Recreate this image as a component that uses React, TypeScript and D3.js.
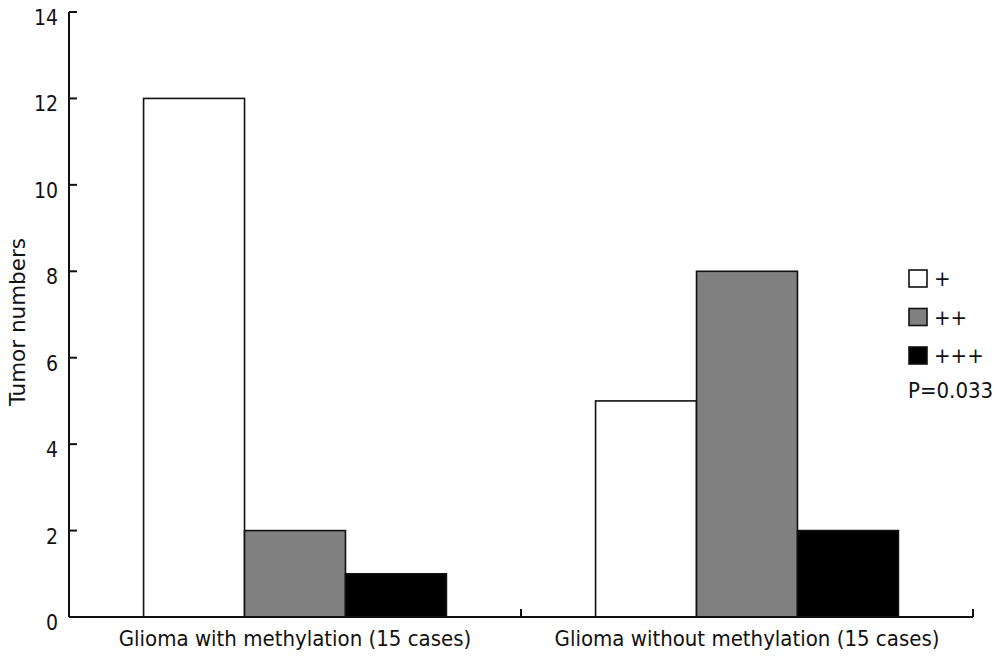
import React from "react";
import * as d3 from "d3";

const categories = ["Glioma with methylation (15 cases)", "Glioma without methylation (15 cases)"];
const seriesNames = ["+", "++", "+++"];
const seriesColors = ["#ffffff", "#808080", "#000000"];
const plusValues = [12, 5];
const plusPlusValues = [2, 8];
const plusPlusPlusValues = [1, 2];
const yTicks = [0, 2, 4, 6, 8, 10, 12, 14];
const pValueText = "P=0.033";
const yAxisTitle = "Tumor numbers";

const seriesValues = [plusValues, plusPlusValues, plusPlusPlusValues];

export default function App() {
  const W = 1004, H = 662;
  const left = 69, right = 973, top = 12, bottom = 617;
  const font = "'DejaVu Sans Condensed', 'DejaVu Sans', sans-serif";

  const x0 = d3.scaleBand<string>().domain(categories).range([left, right]).paddingInner(0).paddingOuter(0);
  const y = d3.scaleLinear().domain([0, 14]).range([bottom, top]);
  const groupW = x0.bandwidth() * 0.67;
  const x1 = d3.scaleBand<string>().domain(seriesNames).range([0, groupW]).padding(0);

  return (
    <svg width={W} height={H} style={{ position: "absolute", left: 0, top: 0, background: "#fff" }} fontFamily={font}>
      <rect x={0} y={0} width={W} height={H} fill="#fff" />
      {/* bars */}
      {categories.map((c, ci) => {
        const gx = (x0(c) as number) + (x0.bandwidth() - groupW) / 2;
        return seriesNames.map((s, si) => {
          const v = seriesValues[si][ci];
          return (
            <rect
              key={c + s}
              x={gx + (x1(s) as number)}
              y={y(v)}
              width={x1.bandwidth()}
              height={y(0) - y(v)}
              fill={seriesColors[si]}
              stroke="#111"
              strokeWidth={1.6}
            />
          );
        });
      })}
      {/* y axis */}
      <line x1={left} x2={left} y1={top} y2={bottom} stroke="#111" strokeWidth={2} />
      {yTicks.map((t) => (
        <g key={t}>
          <line x1={left} x2={left + 8} y1={y(t)} y2={y(t)} stroke="#111" strokeWidth={2} />
          <text x={58} y={y(t) + 13} textAnchor="end" fontSize={21} fill="#111">
            {t}
          </text>
        </g>
      ))}
      {/* x axis */}
      <line x1={left} x2={right} y1={bottom} y2={bottom} stroke="#111" strokeWidth={2} />
      {categories.map((c) => (
        <line key={c} x1={(x0(c) as number) + x0.bandwidth()} x2={(x0(c) as number) + x0.bandwidth()} y1={bottom} y2={bottom - 8} stroke="#111" strokeWidth={2} />
      ))}
      {categories.map((c) => (
        <text key={c} x={(x0(c) as number) + x0.bandwidth() / 2} y={646} textAnchor="middle" fontSize={22} fill="#111">
          {c}
        </text>
      ))}
      {/* y title */}
      <text transform={`translate(25,406) rotate(-90)`} textAnchor="start" fontSize={22} textLength={168} lengthAdjust="spacingAndGlyphs" fill="#111">
        {yAxisTitle}
      </text>
      {/* legend */}
      {seriesNames.map((s, i) => (
        <g key={s} transform={`translate(909,${270 + i * 38.5})`}>
          <rect x={0} y={0} width={18} height={17} fill={seriesColors[i]} stroke="#111" strokeWidth={1.6} />
          <text x={25} y={16} fontSize={22} fill="#111">
            {s}
          </text>
        </g>
      ))}
      <text x={908} y={398} fontSize={22} fill="#111">
        {pValueText}
      </text>
    </svg>
  );
}
